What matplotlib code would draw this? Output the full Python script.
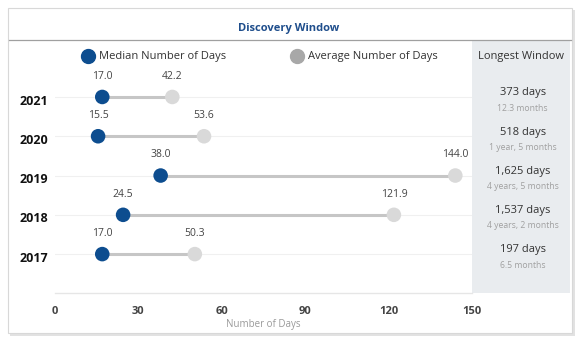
import matplotlib

matplotlib.use("Agg")
import matplotlib.pyplot as plt
from matplotlib.patches import Rectangle
from matplotlib.lines import Line2D

plt.rcParams["font.family"] = ["Open Sans", "DejaVu Sans"]

years = ["2017", "2018", "2019", "2020", "2021"]
median_days = [17.0, 24.5, 38.0, 15.5, 17.0]
average_days = [50.3, 121.9, 144.0, 53.6, 42.2]
longest_days = ["197 days", "1,537 days", "1,625 days", "518 days", "373 days"]
longest_sub = ["6.5 months", "4 years, 2 months", "4 years, 5 months", "1 year, 5 months", "12.3 months"]
xticks = [0, 30, 60, 90, 120, 150]

BLUE = "#0d4d8f"
DOT_GRAY = "#d9d9d9"
LINE_GRAY = "#c6c6c6"
PANEL = "#e9ecef"

W, H = 579, 344
fig = plt.figure(figsize=(W / 100, H / 100), dpi=100)


def fx(px):
    return px / W


def fy(py):
    return 1 - py / H


def card_rect(x0, y0, x1, y1, **kw):
    # rectangle given in pixel corners (top-left origin)
    return Rectangle((fx(x0), fy(y1)), fx(x1 - x0), (y1 - y0) / H, transform=fig.transFigure, **kw)


# card with soft shadow
fig.patches.append(card_rect(10, 10, 575, 336, facecolor="#e2e2e2", edgecolor="none", zorder=0))
fig.patches.append(card_rect(8, 8, 572, 333, facecolor="white", edgecolor="#d8d8d8",
                             linewidth=0.8, zorder=0.5))
# grey "longest window" panel
fig.patches.append(card_rect(472, 41, 570, 293, facecolor=PANEL, edgecolor="none", zorder=0.6))
# line under the title
fig.lines.append(Line2D([fx(9), fx(571)], [fy(40), fy(40)], transform=fig.transFigure,
                        color="#a0a0a0", linewidth=0.9, zorder=1))

fig.text(fx(289), fy(29), "Discovery Window", ha="center", va="center", fontsize=8,
         fontweight="bold", color="#1f4e8c")
fig.text(fx(521), fy(56), "Longest Window", ha="center", va="center", fontsize=8, color="#333333")

ax = fig.add_axes([fx(55), fy(293), fx(417), 253 / H])
ax.set_zorder(2)
ax.patch.set_alpha(0)

for i, (y, m, a) in enumerate(zip(years, median_days, average_days)):
    ax.plot([m, a], [i, i], color=LINE_GRAY, linewidth=2.2, zorder=2, solid_capstyle="butt")
    ax.axhline(i, color="#f0f0f0", linewidth=0.8, zorder=1)
    ax.scatter([a], [i], s=110, color=DOT_GRAY, zorder=3, edgecolors="none")
    ax.scatter([m], [i], s=110, color=BLUE, zorder=4, edgecolors="none")
    ax.annotate(f"{m:.1f}", (m, i), xytext=(0, 11), textcoords="offset points", ha="center",
                va="bottom", fontsize=7.5, color="#444444")
    ax.annotate(f"{a:.1f}", (a, i), xytext=(0, 11), textcoords="offset points", ha="center",
                va="bottom", fontsize=7.5, color="#444444")
    ax.annotate(y, (0, i), xycoords=("axes fraction", "data"), xytext=(-25.5, -3),
                textcoords="offset points", ha="left", va="center", fontsize=9,
                fontweight="bold", color="#111111")
    ax.annotate(longest_days[i], (1.0, i), xycoords=("axes fraction", "data"), xytext=(36.5, 3),
                textcoords="offset points", ha="center", va="center", fontsize=8, color="#333333")
    ax.annotate(longest_sub[i], (1.0, i), xycoords=("axes fraction", "data"), xytext=(36.5, -8),
                textcoords="offset points", ha="center", va="center", fontsize=6.2, color="#a0a0a0")

# legend markers
for px, label, col in [(88, "Median Number of Days", BLUE), (297, "Average Number of Days", "#a8a8a8")]:
    fig.lines.append(Line2D([fx(px)], [fy(56)], transform=fig.transFigure, marker="o",
                            markersize=10, color=col, linestyle="none", zorder=3))
    fig.text(fx(px + 11), fy(56), label, ha="left", va="center", fontsize=8, color="#333333")

ax.set_xlim(0, 150)
ax.set_ylim(-0.99, 5.45)
ax.set_xticks(xticks)
ax.set_xticklabels([str(t) for t in xticks], fontsize=8, fontweight="bold", color="#444444")
ax.set_yticks([])
ax.tick_params(axis="x", length=0, pad=9)
for s in ["top", "right", "left"]:
    ax.spines[s].set_visible(False)
ax.spines["bottom"].set_color("#e6e6e6")
ax.spines["bottom"].set_linewidth(1.0)
ax.set_xlabel("Number of Days", fontsize=7, color="#9a9a9a", labelpad=2)

fig.savefig("out.png", dpi=100)
